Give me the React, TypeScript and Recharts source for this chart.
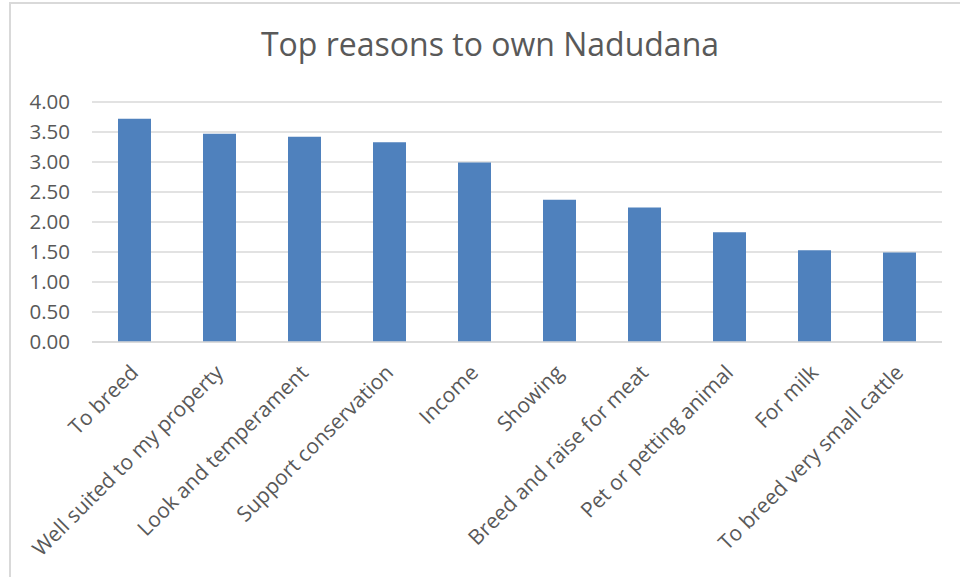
import { BarChart, Bar, XAxis, YAxis, CartesianGrid } from 'recharts'

const reasons = [
  'To breed',
  'Well suited to my property',
  'Look and temperament',
  'Support conservation',
  'Income',
  'Showing',
  'Breed and raise for meat',
  'Pet or petting animal',
  'For milk',
  'To breed very small cattle',
]
const scores = [3.72, 3.47, 3.42, 3.33, 2.99, 2.37, 2.24, 1.83, 1.53, 1.49]
const yTicks = [0, 0.5, 1, 1.5, 2, 2.5, 3, 3.5, 4]

const data = reasons.map((reason, i) => ({ reason, score: scores[i] }))

const font = '"Open Sans", Lato, sans-serif'

const AngledTick = (props: any) => {
  const { x, y, payload } = props
  const ax = x + 5
  const ay = y + 24
  return (
    <text
      x={ax}
      y={ay}
      transform={`rotate(-45, ${ax}, ${ay})`}
      textAnchor="end"
      fill="#595959"
      fontSize={21}
      fontFamily={font}
    >
      {payload.value}
    </text>
  )
}

export default function App() {
  return (
    <div style={{ position: 'absolute', left: 0, top: 0, width: 960, height: 577, overflow: 'hidden', background: '#fff' }}>
      <div
        style={{
          position: 'absolute',
          left: 9,
          top: 2,
          width: 1000,
          height: 640,
          border: '2px solid #d9d9d9',
        }}
      />
      <div
        style={{
          position: 'absolute',
          left: 0,
          top: 22,
          width: 980,
          textAlign: 'center',
          fontFamily: font,
          fontSize: 32,
          color: '#595959',
        }}
      >
        Top reasons to own Nadudana
      </div>
      <div style={{ position: 'absolute', left: 0, top: 0 }}>
        <BarChart
          width={960}
          height={577}
          data={data}
          margin={{ top: 102, right: 18, left: 0, bottom: 0 }}
          barSize={33}
        >
          <CartesianGrid vertical={false} stroke="#d9d9d9" strokeWidth={1.5} />
          <XAxis
            dataKey="reason"
            interval={0}
            height={235}
            tick={<AngledTick />}
            tickLine={false}
            axisLine={{ stroke: '#d9d9d9', strokeWidth: 1.5 }}
          />
          <YAxis
            width={92}
            domain={[0, 4]}
            ticks={yTicks}
            tickFormatter={(v: number) => v.toFixed(2)}
            tick={{ fill: '#595959', fontSize: 20.5, fontFamily: font }}
            tickLine={false}
            tickSize={0}
            tickMargin={22}
            axisLine={false}
          />
          <Bar dataKey="score" fill="#4f81bd" isAnimationActive={false} />
        </BarChart>
      </div>
    </div>
  )
}
